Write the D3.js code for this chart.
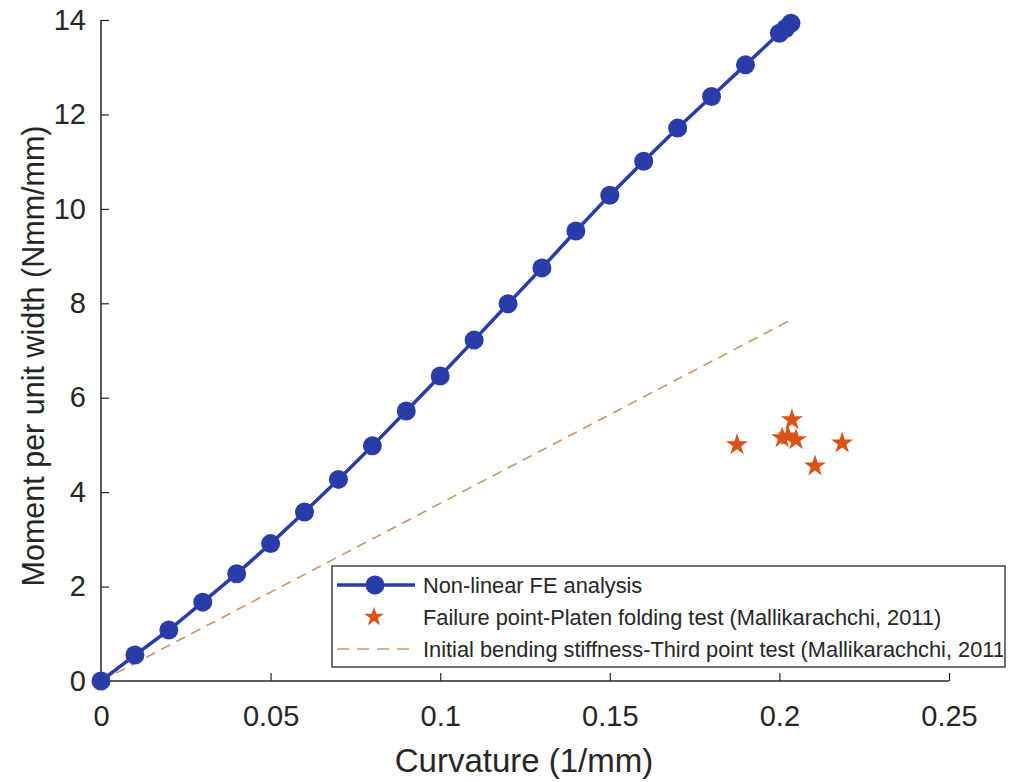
<!DOCTYPE html>
<html>
<head>
<meta charset="utf-8">
<script src="https://cdn.jsdelivr.net/npm/d3@7"></script>
<style>
  html, body { margin: 0; padding: 0; background: #fff; }
  svg text { font-family: "Liberation Sans", Arial, Helvetica, sans-serif; fill: #262626; }
</style>
</head>
<body>
<svg id="chart" width="1030" height="782"></svg>
<script>
// Non-linear FE analysis: curvature (1/mm) vs moment per unit width (Nmm/mm)
const feCurvature = [0, 0.01, 0.02, 0.03, 0.04, 0.05, 0.06, 0.07, 0.08, 0.09, 0.10,
  0.11, 0.12, 0.13, 0.14, 0.15, 0.16, 0.17, 0.18, 0.19, 0.20, 0.2018, 0.2034];
const feMoment = [0, 0.55, 1.08, 1.67, 2.27, 2.91, 3.58, 4.27, 4.98, 5.72, 6.46,
  7.22, 7.99, 8.75, 9.53, 10.29, 11.01, 11.71, 12.38, 13.05, 13.72, 13.82, 13.93];

// Failure points from platen folding tests
const failCurvature = [0.1875, 0.2037, 0.2008, 0.2025, 0.2049, 0.2185, 0.2105];
const failMoment = [5.00, 5.53, 5.15, 5.19, 5.11, 5.04, 4.55];

// Initial bending stiffness line (third point test)
const stiffCurvature = [0, 0.2034];
const stiffMoment = [0, 7.65];

const xTicks = [0, 0.05, 0.1, 0.15, 0.2, 0.25];
const yTicks = [0, 2, 4, 6, 8, 10, 12, 14];

const legendLabels = [
  "Non-linear FE analysis",
  "Failure point-Platen folding test (Mallikarachchi, 2011)",
  "Initial bending stiffness-Third point test (Mallikarachchi, 2011)"
];

const blue = "#2a3caa";
const orange = "#d95319";
const tan = "#c9956a";

const svg = d3.select("#chart");
const x = d3.scaleLinear().domain([0, 0.25]).range([101, 949]);
const y = d3.scaleLinear().domain([0, 14]).range([681, 20]);

// Axes (ticks pointing inward)
const xAxis = d3.axisBottom(x).tickValues(xTicks).tickSize(-8).tickPadding(24)
  .tickFormat(d => d === 0 ? "0" : String(+d.toFixed(2)));
const yAxis = d3.axisLeft(y).tickValues(yTicks).tickSize(-8).tickPadding(15)
  .tickFormat(d3.format("d"));

const gx = svg.append("g").attr("transform", `translate(0,${y(0)})`).call(xAxis);
const gy = svg.append("g").attr("transform", `translate(${x(0)},0)`).call(yAxis);
[gx, gy].forEach(g => {
  g.select(".domain").attr("stroke", "#262626").attr("stroke-width", 1.5);
  g.selectAll(".tick line").attr("stroke", "#262626").attr("stroke-width", 1.2);
  g.selectAll(".tick text").attr("font-size", 29).attr("fill", "#262626")
    .attr("font-family", "'Liberation Sans', Arial, sans-serif");
});
gx.select(".domain").attr("d", `M${x(0)},0H${x(0.25)}`);
gy.select(".domain").attr("d", `M0,${y(0)}V${y(14)}`);

// Axis titles
svg.append("text").attr("x", 524).attr("y", 772)
  .attr("text-anchor", "middle").attr("font-size", 33).text("Curvature (1/mm)");
svg.append("text").attr("transform", "translate(44,356) rotate(-90)")
  .attr("text-anchor", "middle").attr("font-size", 30.5).text("Moment per unit width (Nmm/mm)");

// Stiffness line (dashed)
const line = d3.line().x(d => x(d[0])).y(d => y(d[1]));
svg.append("path").datum(d3.zip(stiffCurvature, stiffMoment)).attr("d", line)
  .attr("fill", "none").attr("stroke", tan).attr("stroke-width", 1.6)
  .attr("stroke-dasharray", "10,7");

// FE analysis line and markers
const feData = d3.zip(feCurvature, feMoment);
svg.append("path").datum(feData).attr("d", line)
  .attr("fill", "none").attr("stroke", blue).attr("stroke-width", 3.5);
svg.append("g").selectAll("circle").data(feData).join("circle")
  .attr("cx", d => x(d[0])).attr("cy", d => y(d[1])).attr("r", 9.5)
  .attr("fill", blue);

// Failure points (stars)
const star = d3.symbol().type(d3.symbolStar).size(150);
svg.append("g").selectAll("path").data(d3.zip(failCurvature, failMoment)).join("path")
  .attr("transform", d => `translate(${x(d[0])},${y(d[1])})`)
  .attr("d", star).attr("fill", orange);

// Legend (text clipped to the box)
const boxW = 673, boxH = 101;
svg.append("clipPath").attr("id", "legend-clip")
  .append("rect").attr("width", boxW - 2).attr("height", boxH);
const lg = svg.append("g").attr("transform", "translate(332,566)");
lg.append("rect").attr("width", boxW).attr("height", boxH)
  .attr("fill", "#fff").attr("stroke", "#262626").attr("stroke-width", 1.3);
const rowY = [19, 51, 83];
lg.append("line").attr("x1", 5).attr("x2", 83).attr("y1", rowY[0]).attr("y2", rowY[0])
  .attr("stroke", blue).attr("stroke-width", 3.5);
lg.append("circle").attr("cx", 43).attr("cy", rowY[0]).attr("r", 9.5).attr("fill", blue);
lg.append("path").attr("transform", `translate(42,${rowY[1]})`)
  .attr("d", d3.symbol().type(d3.symbolStar).size(120)).attr("fill", orange);
lg.append("line").attr("x1", 5).attr("x2", 83).attr("y1", rowY[2]).attr("y2", rowY[2])
  .attr("stroke", tan).attr("stroke-width", 1.6).attr("stroke-dasharray", "12,8");
lg.append("g").attr("clip-path", "url(#legend-clip)")
  .selectAll("text.lbl").data(legendLabels).join("text").attr("class", "lbl")
  .attr("x", 91).attr("y", (d, i) => rowY[i]).attr("dy", "0.35em")
  .attr("font-size", 21.8).text(d => d);
</script>
</body>
</html>
